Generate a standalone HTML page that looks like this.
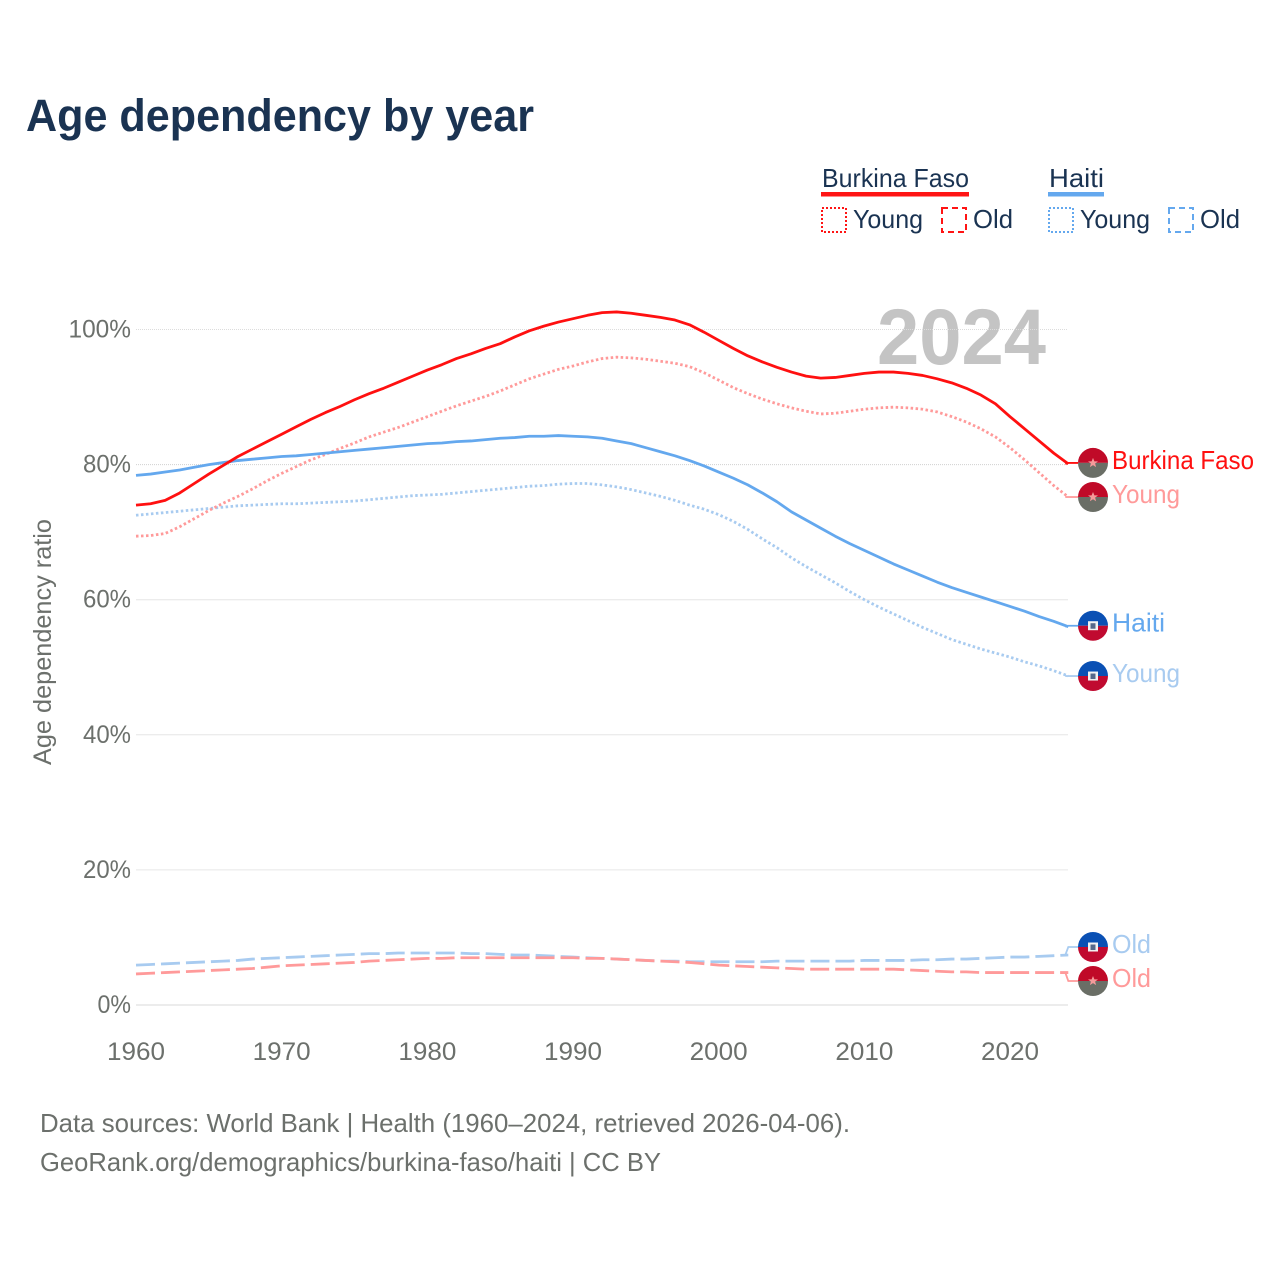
<!DOCTYPE html>
<html lang="en">
<head>
<meta charset="utf-8">
<title>Age dependency by year</title>
<style>
html,body{margin:0;padding:0;background:#fff;}
svg{display:block;font-family:"Liberation Sans","DejaVu Sans",sans-serif;}
</style>
</head>
<body>
<svg id="chart" xmlns="http://www.w3.org/2000/svg" width="1280" height="1280" viewBox="0 0 1280 1280">
  <rect x="0" y="0" width="1280" height="1280" fill="#ffffff"/>
  <text x="26" y="131" font-size="45" font-weight="700" fill="#1a3352" textLength="508" lengthAdjust="spacingAndGlyphs">Age dependency by year</text>

  <g>
    <text x="822" y="187" font-size="26" fill="#1a3352" textLength="147" lengthAdjust="spacingAndGlyphs">Burkina Faso</text>
    <rect x="821" y="192" width="148" height="4.5" fill="#ff1414"/>
    <rect x="822" y="208" width="24" height="24" fill="none" stroke="#ff1414" stroke-width="2" stroke-dasharray="2 2"/>
    <text x="853" y="228" font-size="26" fill="#1a3352" textLength="70" lengthAdjust="spacingAndGlyphs">Young</text>
    <rect x="942" y="208" width="24" height="24" fill="none" stroke="#ff1414" stroke-width="2" stroke-dasharray="6 4"/>
    <text x="973" y="228" font-size="26" fill="#1a3352" textLength="40" lengthAdjust="spacingAndGlyphs">Old</text>

    <text x="1049" y="187" font-size="26" fill="#1a3352" textLength="55" lengthAdjust="spacingAndGlyphs">Haiti</text>
    <rect x="1048" y="192" width="56" height="4.5" fill="#64a8ee"/>
    <rect x="1049" y="208" width="24" height="24" fill="none" stroke="#64a8ee" stroke-width="2" stroke-dasharray="2 2"/>
    <text x="1080" y="228" font-size="26" fill="#1a3352" textLength="70" lengthAdjust="spacingAndGlyphs">Young</text>
    <rect x="1169" y="208" width="24" height="24" fill="none" stroke="#64a8ee" stroke-width="2" stroke-dasharray="6 4"/>
    <text x="1200" y="228" font-size="26" fill="#1a3352" textLength="40" lengthAdjust="spacingAndGlyphs">Old</text>
  </g>

  <text x="877" y="364" font-size="79" font-weight="700" fill="#c4c4c4" textLength="169" lengthAdjust="spacingAndGlyphs">2024</text>
  <g id="grid"></g>
  <g id="y-ticks"></g>
  <g id="x-ticks"></g>
  <text transform="translate(51 765) rotate(-90)" x="0" y="0" font-size="25" fill="#6c706c" textLength="246" lengthAdjust="spacingAndGlyphs">Age dependency ratio</text>
  <g id="series"></g>
  <g id="end-labels"></g>

  <text x="40" y="1132" font-size="26" fill="#6c706c" textLength="810" lengthAdjust="spacingAndGlyphs">Data sources: World Bank | Health (1960–2024, retrieved 2026-04-06).</text>
  <text x="40" y="1171" font-size="26" fill="#6c706c" textLength="621" lengthAdjust="spacingAndGlyphs">GeoRank.org/demographics/burkina-faso/haiti | CC BY</text>
</svg>
<script>
const startYear = 1960;
const xTickLabels = [1960, 1970, 1980, 1990, 2000, 2010, 2020];
const yTickLabels = [0, 20, 40, 60, 80, 100];
const burkinaTotal = [
  74.0,74.2,74.7,75.8,77.2,78.6,79.9,81.2,82.3,83.4,
  84.5,85.6,86.7,87.7,88.6,89.6,90.5,91.3,92.2,93.1,
  94.0,94.8,95.7,96.4,97.2,97.9,98.9,99.8,100.5,101.1,
  101.6,102.1,102.5,102.6,102.4,102.1,101.8,101.4,100.7,99.6,
  98.4,97.2,96.1,95.2,94.4,93.7,93.1,92.8,92.9,93.2,
  93.5,93.7,93.7,93.5,93.2,92.7,92.1,91.3,90.3,89.0,
  87.1,85.3,83.5,81.7,80.1];
const burkinaYoung = [
  69.4,69.5,69.8,70.8,72.0,73.2,74.3,75.3,76.4,77.6,
  78.7,79.7,80.7,81.5,82.4,83.2,84.1,84.8,85.5,86.3,
  87.1,87.9,88.7,89.4,90.1,90.9,91.8,92.7,93.4,94.1,
  94.6,95.2,95.7,95.9,95.8,95.6,95.3,95.0,94.5,93.6,
  92.5,91.4,90.5,89.7,89.0,88.4,87.9,87.5,87.6,87.9,
  88.2,88.4,88.5,88.4,88.2,87.8,87.1,86.3,85.3,84.1,
  82.5,80.7,78.8,76.9,75.2];
const burkinaOld = [
  4.6,4.7,4.8,4.9,5.0,5.1,5.2,5.3,5.4,5.6,
  5.8,5.9,6.0,6.1,6.2,6.3,6.5,6.6,6.7,6.8,
  6.9,6.9,7.0,7.0,7.0,7.0,7.0,7.0,7.0,7.0,
  7.0,6.9,6.9,6.8,6.7,6.6,6.5,6.4,6.3,6.1,
  5.9,5.8,5.7,5.6,5.5,5.4,5.3,5.3,5.3,5.3,
  5.3,5.3,5.3,5.2,5.1,5.0,4.9,4.9,4.8,4.8,
  4.8,4.8,4.8,4.8,4.8];
const haitiTotal = [
  78.4,78.6,78.9,79.2,79.6,80.0,80.3,80.6,80.8,81.0,
  81.2,81.3,81.5,81.7,81.9,82.1,82.3,82.5,82.7,82.9,
  83.1,83.2,83.4,83.5,83.7,83.9,84.0,84.2,84.2,84.3,
  84.2,84.1,83.9,83.5,83.1,82.5,81.9,81.3,80.6,79.8,
  78.9,78.0,77.0,75.8,74.5,73.0,71.8,70.6,69.4,68.3,
  67.3,66.3,65.3,64.4,63.5,62.6,61.8,61.1,60.4,59.7,
  59.0,58.3,57.5,56.8,56.0];
const haitiYoung = [
  72.5,72.7,72.9,73.1,73.3,73.5,73.7,73.9,74.0,74.1,
  74.2,74.2,74.3,74.4,74.5,74.6,74.8,75.0,75.2,75.4,
  75.5,75.6,75.8,76.0,76.2,76.4,76.6,76.8,76.9,77.1,
  77.2,77.2,77.0,76.7,76.3,75.8,75.3,74.7,74.0,73.4,
  72.6,71.6,70.4,69.0,67.7,66.2,64.9,63.7,62.5,61.2,
  60.0,58.9,57.9,56.9,55.9,55.0,54.1,53.4,52.7,52.1,
  51.5,50.8,50.2,49.5,48.7];
const haitiOld = [
  5.9,6.0,6.1,6.2,6.3,6.4,6.5,6.6,6.8,6.9,
  7.0,7.1,7.2,7.3,7.4,7.5,7.6,7.6,7.7,7.7,
  7.7,7.7,7.7,7.6,7.6,7.5,7.4,7.4,7.3,7.2,
  7.1,7.0,6.9,6.8,6.7,6.6,6.5,6.5,6.4,6.4,
  6.4,6.4,6.4,6.4,6.5,6.5,6.5,6.5,6.5,6.5,
  6.6,6.6,6.6,6.6,6.7,6.7,6.8,6.8,6.9,7.0,
  7.1,7.1,7.2,7.3,7.4];

const NS = 'http://www.w3.org/2000/svg';
const xScale = function (year) { return 136 + (year - 1960) * 14.567; };
const yScale = function (v) { return 1005 - v * 6.755; };

function make(tag, parent, attrs) {
  const el = document.createElementNS(NS, tag);
  Object.keys(attrs).forEach(function (k) { el.setAttribute(k, attrs[k]); });
  parent.appendChild(el);
  return el;
}

const gridLayer = document.getElementById('grid');
const yTickLayer = document.getElementById('y-ticks');
const xTickLayer = document.getElementById('x-ticks');
const seriesLayer = document.getElementById('series');
const labelLayer = document.getElementById('end-labels');

yTickLabels.forEach(function (t) {
  const upper = t >= 80;
  const line = make('line', gridLayer, {
    x1: 136, x2: 1068, y1: yScale(t), y2: yScale(t),
    stroke: t === 100 ? '#dcdcdc' : (t === 80 ? '#d0d0d0' : '#e6e6e6'),
    'stroke-width': t === 0 ? 1.6 : 1
  });
  if (upper) line.setAttribute('stroke-dasharray', '1 1');
  
  
  const label = make('text', yTickLayer, {
    x: 131, y: yScale(t) + 8, 'font-size': 25, fill: '#6c706c', 'text-anchor': 'end',
    textLength: String(t).length * 14.5 + 19, lengthAdjust: 'spacingAndGlyphs'
  });
  label.textContent = t + '%';
  
  
});

xTickLabels.forEach(function (t) {
  const label = make('text', xTickLayer, {
    x: xScale(t), y: 1060, 'font-size': 25, fill: '#6c706c', 'text-anchor': 'middle',
    textLength: 58, lengthAdjust: 'spacingAndGlyphs'
  });
  label.textContent = t;
  
  
});

function drawLine(values, color, dash, name) {
  let d = '';
  values.forEach(function (v, i) {
    d += (i ? 'L' : 'M') + xScale(startYear + i).toFixed(2) + ' ' + yScale(v).toFixed(2);
  });
  const path = make('path', seriesLayer, {
    d: d, fill: 'none', stroke: color, 'stroke-width': 2.8, 'stroke-linejoin': 'round'
  });
  if (dash) path.setAttribute('stroke-dasharray', dash);
  
  
}

function drawEnd(values, color, flag, text, dodge, textWidth, name) {
  const yEnd = yScale(values[values.length - 1]);
  const xEnd = xScale(startYear + values.length - 1);
  const yLabel = yEnd + dodge;
  const leader = make('path', labelLayer, {
    d: 'M' + (xEnd - 3) + ' ' + yEnd + 'L' + xEnd + ' ' + yLabel + 'L1078 ' + yLabel,
    fill: 'none', stroke: color, 'stroke-width': 1.8
  });
  
  

  const g = make('g', labelLayer, { transform: 'translate(1093 ' + yLabel + ')' });
  
  
  const r = 15;
  const topColor = flag === 'bf' ? '#c00a28' : '#0a50b4';
  const bottomColor = flag === 'bf' ? '#6a6e66' : '#c00a30';
  make('path', g, { d: 'M' + (-r) + ' 0A' + r + ' ' + r + ' 0 0 1 ' + r + ' 0Z', fill: topColor });
  make('path', g, { d: 'M' + (-r) + ' 0A' + r + ' ' + r + ' 0 0 0 ' + r + ' 0Z', fill: bottomColor });
  if (flag === 'bf') {
    make('polygon', g, {
      points: '0,-5 1.4,-1.6 5,-1.6 2.1,0.6 3.1,4.2 0,2.2 -3.1,4.2 -2.1,0.6 -5,-1.6 -1.4,-1.6',
      fill: '#f59a9a'
    });
  } else {
    make('rect', g, { x: -5, y: -4.5, width: 10, height: 9, fill: '#f2f2f2' });
    make('rect', g, { x: -2.5, y: -2.5, width: 5, height: 5.5, fill: '#55688a' });
  }

  const label = make('text', labelLayer, {
    x: 1112, y: yLabel + 6, 'font-size': 26, fill: color,
    textLength: textWidth, lengthAdjust: 'spacingAndGlyphs'
  });
  label.textContent = text;
  
  
}

const RED = '#ff1010', RED_L = '#ff9a9a', BLUE = '#64a8ee', BLUE_L = '#a8cbf0';
const DOT = '2.5 2.5', DASH = '19 6';

drawLine(haitiOld, BLUE_L, DASH, 'line-haiti-old');
drawLine(burkinaOld, RED_L, DASH, 'line-burkina-faso-old');
drawLine(haitiYoung, BLUE_L, DOT, 'line-haiti-young');
drawLine(burkinaYoung, RED_L, DOT, 'line-burkina-faso-young');
drawLine(haitiTotal, BLUE, null, 'line-haiti-total');
drawLine(burkinaTotal, RED, null, 'line-burkina-faso-total');

drawEnd(burkinaTotal, RED, 'bf', 'Burkina Faso', -1, 142, 'end-burkina-faso-total');
drawEnd(burkinaYoung, RED_L, 'bf', 'Young', 0, 68, 'end-burkina-faso-young');
drawEnd(haitiTotal, BLUE, 'ha', 'Haiti', -1, 53, 'end-haiti-total');
drawEnd(haitiYoung, BLUE_L, 'ha', 'Young', 0, 68, 'end-haiti-young');
drawEnd(haitiOld, BLUE_L, 'ha', 'Old', -8, 39, 'end-haiti-old');
drawEnd(burkinaOld, RED_L, 'bf', 'Old', 8.4, 39, 'end-burkina-faso-old');
</script>
</body>
</html>
